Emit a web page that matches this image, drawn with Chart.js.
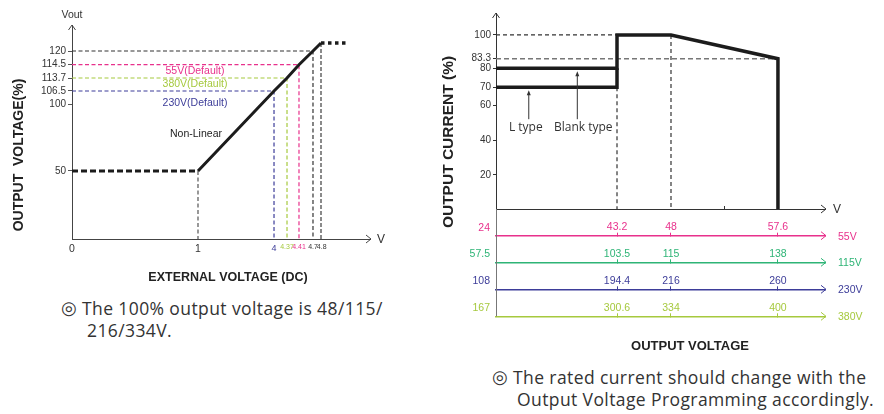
<!DOCTYPE html>
<html>
<head>
<meta charset="utf-8">
<script src="https://cdn.jsdelivr.net/npm/chart.js@4.4.1/dist/chart.umd.min.js"></script>
<style>
  html, body { margin: 0; padding: 0; background: #fff; }
  body { width: 884px; height: 414px; position: relative; overflow: hidden; }
  #leftWrap { position: absolute; left: 0; top: 0; width: 430px; height: 290px; }
  #rightWrap { position: absolute; left: 430px; top: 0; width: 454px; height: 360px; }
  .note { position: absolute; color: #333; font-family: 'Open Sans', 'Noto Sans', sans-serif; font-size: 17.5px; letter-spacing: 0.4px; line-height: 22px; white-space: nowrap; }
  .note .mark { position: absolute; left: -21px; top: 0; font-family: 'DejaVu Sans', sans-serif; font-size: 18px; line-height: 22px; letter-spacing: 0; }
</style>
</head>
<body>
<div id="leftWrap"><canvas id="leftChart" width="430" height="290"></canvas></div>
<div id="rightWrap"><canvas id="rightChart" width="454" height="360"></canvas></div>
<div class="note" style="left:82px; top:297px;"><span class="mark">◎</span>The 100% output voltage is 48/115/<br><span style="padding-left:5px">216/334V.</span></div>
<div class="note" style="left:513px; top:366px;"><span class="mark">◎</span>The rated current should change with the<br><span style="padding-left:4px">Output Voltage Programming accordingly.</span></div>
<script>
// --- gráfico da esquerda: tensão externa x tensão de saída ---
const extVolt = [1, 4, 4.37, 4.41, 4.7, 4.8];
const outPct = [50, 106.5, 113.7, 114.5, 120, 123];
const leftXTicks = [0, 1, 4, 4.37, 4.41, 4.7, 4.8];
const leftYTicks = [50, 100, 106.5, 113.7, 114.5, 120];
const defaultNames = ['55V(Default)', '380V(Default)', '230V(Default)'];
const defaultVolt = [4.41, 4.37, 4];
const defaultPct = [114.5, 113.7, 106.5];

// --- gráfico da direita: corrente de saída x tensão de saída ---
const outVolt = [24, 43.2, 48, 57.6];
const blankTypeX = [24, 43.2, 43.2, 48, 57.6, 57.6];
const blankTypeY = [80, 80, 100, 100, 83.3, 0];
const lTypeX = [24, 43.2, 43.2];
const lTypeY = [70, 70, 80];
const rightYTicks = [20, 40, 60, 70, 80, 83.3, 100];
const midTick = [52.8];
const railNames = ['55V', '115V', '230V', '380V'];
const railVolts = [
    [24, 43.2, 48, 57.6],
    [57.5, 103.5, 115, 138],
    [108, 194.4, 216, 260],
    [167, 300.6, 334, 400]
];

const PINK = '#e8318c', LIME = '#a6c93e', NAVY = '#3d3d99', GREEN = '#2eb476';
const railColors = [PINK, GREEN, NAVY, LIME];
const defaultColors = [PINK, LIME, NAVY];
const NARROW = "'Liberation Sans Narrow', 'Liberation Sans', Arial, sans-serif";
const SANS = "'Liberation Sans', Arial, sans-serif";

// Escala linear por partes (o desenho original não é proporcional)
class PiecewiseScale extends Chart.LinearScale {
    toDecimal(v) {
        const s = this.options.stops;
        if (v <= s[0][0]) return s[0][1];
        for (let i = 1; i < s.length; i++) {
            if (v <= s[i][0]) {
                const [v0, d0] = s[i - 1], [v1, d1] = s[i];
                return d0 + (d1 - d0) * (v - v0) / (v1 - v0);
            }
        }
        return s[s.length - 1][1];
    }
    getPixelForValue(v) {
        if (v === null || v === undefined || isNaN(v)) return NaN;
        return this.getPixelForDecimal(this.toDecimal(v));
    }
    getValueForPixel(p) {
        const d = this.getDecimalForPixel(p);
        const s = this.options.stops;
        for (let i = 1; i < s.length; i++) {
            if (d <= s[i][1]) {
                const [v0, d0] = s[i - 1], [v1, d1] = s[i];
                return v0 + (v1 - v0) * (d - d0) / (d1 - d0);
            }
        }
        return s[s.length - 1][0];
    }
}
PiecewiseScale.id = 'piecewise';
PiecewiseScale.defaults = Chart.LinearScale.defaults;
Chart.register(PiecewiseScale);

function pts(xs, ys) {
    return xs.map((x, i) => ({ x: x, y: ys[i] }));
}

function seg(xs, ys, color, width, dash) {
    return {
        data: pts(xs, ys),
        borderColor: color,
        borderWidth: width,
        borderDash: dash || [],
        borderJoinStyle: 'miter',
        borderCapStyle: 'butt',
        pointRadius: 0,
        tension: 0,
        fill: false
    };
}

function chevron(ctx, x, y, dir, color) {
    ctx.save();
    ctx.strokeStyle = color;
    ctx.lineWidth = 1;
    ctx.beginPath();
    if (dir === 'up') {
        ctx.moveTo(x - 3.5, y + 5); ctx.lineTo(x, y); ctx.lineTo(x + 3.5, y + 5);
    } else {
        ctx.moveTo(x - 4, y - 4); ctx.lineTo(x + 1, y); ctx.lineTo(x - 4, y + 4);
    }
    ctx.stroke();
    ctx.restore();
}

function label(ctx, text, x, y, font, color, align) {
    ctx.font = font;
    ctx.fillStyle = color;
    ctx.textAlign = align || 'center';
    ctx.textBaseline = 'middle';
    ctx.fillText(text, x, y);
}

function vTitle(ctx, text, x, y, font) {
    ctx.save();
    ctx.translate(x, y);
    ctx.rotate(-Math.PI / 2);
    label(ctx, text, 0, 0, font, '#222');
    ctx.restore();
}

// ---------------- gráfico da esquerda ----------------
const leftDecor = {
    id: 'leftDecor',
    afterDraw(chart) {
        const { ctx, chartArea: a, scales: { x, y } } = chart;
        ctx.save();
        chevron(ctx, a.left, a.top, 'up', '#444');
        chevron(ctx, a.right, a.bottom, 'right', '#444');
        label(ctx, 'Vout', a.left, 15, '10.5px ' + SANS, '#333');
        label(ctx, 'V', a.right + 7, a.bottom + 1, '12px ' + SANS, '#333', 'left');

        // rótulos dos valores padrão
        const cx = x.getPixelForValue(1) - 3;
        const ys = [
            (y.getPixelForValue(defaultPct[0]) + y.getPixelForValue(defaultPct[1])) / 2,
            (y.getPixelForValue(defaultPct[1]) + y.getPixelForValue(defaultPct[2])) / 2,
            y.getPixelForValue(defaultPct[2]) + 12
        ];
        defaultNames.forEach((n, i) => label(ctx, n, cx, ys[i], '10.5px ' + SANS, defaultColors[i]));
        label(ctx, 'Non-Linear', cx + 1, y.getPixelForValue(77.5), '10.5px ' + SANS, '#222');

        vTitle(ctx, 'OUTPUT  VOLTAGE(%)', 19, 155, 'bold 14px ' + SANS);
        label(ctx, 'EXTERNAL VOLTAGE (DC)', 228, 278, 'bold 12.5px ' + SANS, '#222');
        ctx.restore();
    }
};

const xTickColors = ['#333', '#333', NAVY, LIME, PINK, '#333', '#333'];

new Chart(document.getElementById('leftChart'), {
    type: 'line',
    data: {
        datasets: [
            seg(extVolt, outPct, '#1c1c1c', 3),
            seg([0, extVolt[0]], [outPct[0], outPct[0]], '#1c1c1c', 3, [6, 3]),
            seg([4.8, 5.0], [123, 123], '#1c1c1c', 3.5, [3.5, 3.5]),
            ...defaultVolt.map((v, i) => seg([0, v, v], [defaultPct[i], defaultPct[i], 0], defaultColors[i], 1.2, [4, 2.5])),
            seg([0, extVolt[4], extVolt[4]], [outPct[4], outPct[4], 0], '#333', 1.2, [4, 2.5]),
            seg([1, 1], [50, 0], '#555', 1.2, [4, 2.5]),
            seg([4.8, 4.8], [123, 0], '#8a8a8a', 2, [4, 2])
        ]
    },
    options: {
        responsive: false,
        animation: false,
        events: [],
        layout: { padding: { left: 0, top: 25, right: 60, bottom: 0 } },
        plugins: { legend: { display: false }, tooltip: { enabled: false } },
        scales: {
            x: {
                type: 'piecewise',
                position: 'bottom',
                min: 0,
                max: 5.2,
                stops: [[0, 0], [1, 0.4228], [4, 0.6779], [4.37, 0.7215], [4.41, 0.7617], [4.7, 0.8087], [4.8, 0.8356], [5.2, 1]],
                afterBuildTicks: s => { s.ticks = leftXTicks.map(v => ({ value: v })); },
                afterFit: s => { s.height = 51; },
                grid: { drawOnChartArea: false, drawTicks: false },
                border: { color: '#444', width: 1 },
                ticks: {
                    autoSkip: false, maxRotation: 0, minRotation: 0, padding: 4,
                    // o "4.8" fica encostado à direita do "4.7", como no original
                    callback: (v, i) => i === leftXTicks.length - 1 ? '\u2009' + v : String(v),
                    color: c => xTickColors[c.index] || '#333',
                    font: c => c.index < 2 ? { family: SANS, size: 10.5 } : { family: NARROW, size: c.index === 2 ? 9 : 7 }
                }
            },
            y: {
                type: 'piecewise',
                position: 'left',
                min: 0,
                max: 130,
                stops: [[0, 0], [50, 0.3178], [100, 0.6308], [106.5, 0.6916], [113.7, 0.7523], [114.5, 0.8145], [120, 0.8785], [123, 0.9159], [130, 1]],
                afterBuildTicks: s => { s.ticks = leftYTicks.map(v => ({ value: v })); },
                afterFit: s => { s.width = 72; },
                grid: { drawOnChartArea: false, drawTicks: true, tickLength: 4, color: '#555' },
                border: { color: '#444', width: 1 },
                ticks: { autoSkip: false, padding: 2, color: '#333', font: { family: SANS, size: 10 }, callback: v => String(v) }
            }
        }
    },
    plugins: [leftDecor]
});

// ---------------- gráfico da direita ----------------
const mainDec = [0, 0.3678, 0.5319, 0.857];

function railStops(volts) {
    const st = volts.map((v, i) => [v, mainDec[i]]);
    const n = volts.length - 1;
    const slope = (volts[n] - volts[n - 1]) / (mainDec[n] - mainDec[n - 1]);
    st.push([volts[n] + slope * (1 - mainDec[n]), 1]);
    return st;
}

const railHeights = [26.6, 27, 27, 43.7];

const rightScales = {
    x: {
        type: 'piecewise',
        position: 'bottom',
        weight: 0,
        min: outVolt[0],
        max: railStops(outVolt)[4][0],
        stops: railStops(outVolt),
        afterBuildTicks: s => { s.ticks = midTick.map(v => ({ value: v })); },
        afterFit: s => { s.height = 26.7; },
        grid: { drawOnChartArea: false, drawTicks: true, tickLength: -3, color: '#333' },
        border: { color: '#333', width: 1 },
        ticks: { display: false }
    },
    y: {
        type: 'piecewise',
        position: 'left',
        min: 0,
        max: 108,
        stops: [[0, 0], [20, 0.1735], [40, 0.352], [60, 0.529], [70, 0.621], [80, 0.718], [83.3, 0.767], [100, 0.888], [108, 1]],
        afterBuildTicks: s => { s.ticks = rightYTicks.map(v => ({ value: v })); },
        afterFit: s => { s.width = 66; },
        grid: { drawOnChartArea: false, drawTicks: true, tickLength: 3, color: '#333' },
        border: { color: '#333', width: 1 },
        ticks: { autoSkip: false, padding: 2, color: '#333', font: { family: SANS, size: 10 }, callback: v => String(v) }
    }
};

railVolts.forEach((volts, i) => {
    const st = railStops(volts);
    rightScales['r' + i] = {
        type: 'piecewise',
        axis: 'x',
        position: 'bottom',
        weight: i + 1,
        min: volts[0],
        max: st[st.length - 1][0],
        stops: st,
        afterBuildTicks: s => { s.ticks = volts.slice(1).map(v => ({ value: v })); },
        afterFit: s => { s.height = railHeights[i]; },
        grid: { drawOnChartArea: false, drawTicks: true, tickLength: -3, color: railColors[i] },
        border: { color: railColors[i], width: 1.5 },
        ticks: {
            autoSkip: false, maxRotation: 0, minRotation: 0, mirror: true, padding: 2,
            color: railColors[i], font: { family: SANS, size: 10.5 },
            callback: v => String(v)
        }
    };
});

const rightDecor = {
    id: 'rightDecor',
    afterDraw(chart) {
        const { ctx, chartArea: a, scales } = chart;
        const x = scales.x, y = scales.y;
        ctx.save();
        // prolongamento do eixo y até a última régua
        ctx.strokeStyle = '#777';
        ctx.lineWidth = 1;
        ctx.beginPath();
        ctx.moveTo(a.left + 0.5, a.bottom);
        ctx.lineTo(a.left + 0.5, scales.r3.top);
        ctx.stroke();

        chevron(ctx, a.left, a.top, 'up', '#333');
        chevron(ctx, a.right, a.bottom, 'right', '#333');
        label(ctx, 'V', a.right + 8, a.bottom + 1, '12px ' + SANS, '#333', 'left');

        railVolts.forEach((volts, i) => {
            const s = scales['r' + i];
            chevron(ctx, s.right, s.top, 'right', railColors[i]);
            label(ctx, railNames[i], s.right + 13, s.top + 1, '10.5px ' + SANS, railColors[i], 'left');
            label(ctx, String(volts[0]), s.left - 6, s.top - 8, '10.5px ' + SANS, railColors[i], 'right');
        });

        // setas "L type" e "Blank type"
        const arrows = [
            { text: 'L type', vx: 29.2, tipY: lTypeY[0], dx: -3 },
            { text: 'Blank type', vx: 36.9, tipY: blankTypeY[0], dx: 6 }
        ];
        arrows.forEach(ar => {
            const px = x.getPixelForValue(ar.vx);
            const top = y.getPixelForValue(ar.tipY) + 3;
            const bottom = y.getPixelForValue(52);
            ctx.strokeStyle = '#333';
            ctx.fillStyle = '#333';
            ctx.lineWidth = 1;
            ctx.beginPath();
            ctx.moveTo(px, bottom);
            ctx.lineTo(px, top + 4);
            ctx.stroke();
            ctx.beginPath();
            ctx.moveTo(px - 2, top + 5); ctx.lineTo(px, top); ctx.lineTo(px + 2, top + 5);
            ctx.closePath();
            ctx.fill();
            label(ctx, ar.text, px + ar.dx, y.getPixelForValue(47), "12px 'Open Sans', 'Noto Sans', sans-serif", '#333');
        });

        vTitle(ctx, 'OUTPUT CURRENT (%)', 19, 142, 'bold 15.5px ' + SANS);
        label(ctx, 'OUTPUT VOLTAGE', 260, 346, 'bold 13px ' + SANS, '#222');
        ctx.restore();
    }
};

new Chart(document.getElementById('rightChart'), {
    type: 'line',
    data: {
        datasets: [
            seg(blankTypeX, blankTypeY, '#1c1c1c', 3.5),
            seg(lTypeX, lTypeY, '#1c1c1c', 3.5),
            seg([outVolt[0], outVolt[1]], [100, 100], '#333', 1.2, [4, 3]),
            seg([outVolt[0], outVolt[3]], [83.3, 83.3], '#777', 1.5, [5, 3]),
            seg([outVolt[1], outVolt[1]], [70, 0], '#333', 1.2, [4, 3]),
            seg([outVolt[2], outVolt[2]], [100, 0], '#333', 1.2, [4, 3])
        ]
    },
    options: {
        responsive: false,
        animation: false,
        events: [],
        layout: { padding: { left: 0, top: 13, right: 59, bottom: 0 } },
        plugins: { legend: { display: false }, tooltip: { enabled: false } },
        scales: rightScales
    },
    plugins: [rightDecor]
});
</script>
</body>
</html>
